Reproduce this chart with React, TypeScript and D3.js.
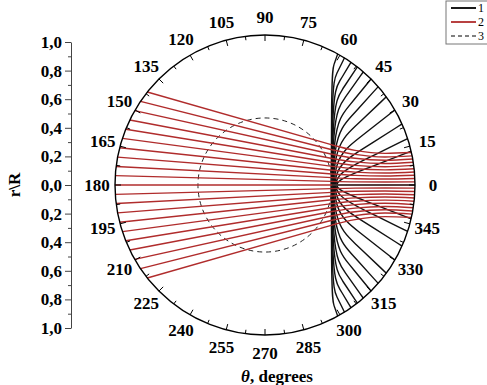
import { useEffect, useRef } from "react";
import * as d3 from "d3";

// angular grid (degrees)
const angleLabels = [0, 15, 30, 45, 60, 75, 90, 105, 120, 135, 150, 165, 180, 195, 210, 225, 240, 255, 270, 285, 300, 315, 330, 345];
const radialTicks = [-1, -0.8, -0.6, -0.4, -0.2, 0, 0.2, 0.4, 0.6, 0.8, 1];

// series 2: red rays, top to bottom
const redStartDeg = [141.7, 146.1, 150.3, 154.3, 158.2, 161.9, 165.6, 169.3, 172.9, 176.4, 180, 183.6, 187.1, 190.7, 194.4, 198.1, 201.8, 205.7, 209.7, 213.9, 218.3];
const redKinkY = [0.267, 0.235, 0.205, 0.177, 0.15, 0.124, 0.098, 0.073, 0.049, 0.024, 0, -0.024, -0.049, -0.073, -0.098, -0.124, -0.15, -0.177, -0.205, -0.235, -0.267];
const redMidY = [0.231, 0.204, 0.178, 0.154, 0.131, 0.108, 0.086, 0.064, 0.042, 0.021, 0, -0.021, -0.042, -0.064, -0.086, -0.108, -0.131, -0.154, -0.178, -0.204, -0.231];
const redLateY = [0.211, 0.187, 0.165, 0.143, 0.122, 0.101, 0.08, 0.06, 0.04, 0.02, 0, -0.02, -0.04, -0.06, -0.08, -0.101, -0.122, -0.143, -0.165, -0.187, -0.211];
const redEndDeg = [12.5, 11.2, 10, 8.7, 7.5, 6.2, 5, 3.7, 2.5, 1.2, 0, -1.2, -2.5, -3.7, -5, -6.2, -7.5, -8.7, -10, -11.2, -12.5];
const kinkX = 0.447;
const midX = 0.6;
const lateX = 0.8;

// series 1: black curves (x, y in r/R)
const blackCurves: [number, number][][] = [
  [[0.974, 0.225], [0.672, 0.108], [0.47, 0.03], [0.47, -0.03], [0.672, -0.108], [0.974, -0.225]],
  [[0.951, 0.309], [0.659, 0.166], [0.465, 0.07], [0.465, -0.07], [0.659, -0.166], [0.951, -0.309]],
  [[0.914, 0.407], [0.642, 0.235], [0.46, 0.12], [0.46, -0.12], [0.642, -0.235], [0.914, -0.407]],
  [[0.866, 0.5], [0.62, 0.308], [0.456, 0.18], [0.456, -0.18], [0.62, -0.308], [0.866, -0.5]],
  [[0.809, 0.588], [0.595, 0.385], [0.452, 0.25], [0.452, -0.25], [0.595, -0.385], [0.809, -0.588]],
  [[0.755, 0.656], [0.572, 0.454], [0.45, 0.32], [0.45, -0.32], [0.572, -0.454], [0.755, -0.656]],
  [[0.707, 0.707], [0.552, 0.517], [0.448, 0.39], [0.448, -0.39], [0.552, -0.517], [0.707, -0.707]],
  [[0.656, 0.755], [0.53, 0.578], [0.446, 0.46], [0.446, -0.46], [0.53, -0.578], [0.656, -0.755]],
  [[0.616, 0.788], [0.513, 0.633], [0.444, 0.53], [0.444, -0.53], [0.513, -0.633], [0.616, -0.788]],
  [[0.574, 0.819], [0.495, 0.688], [0.443, 0.6], [0.443, -0.6], [0.495, -0.688], [0.574, -0.819]],
  [[0.53, 0.848], [0.477, 0.741], [0.442, 0.67], [0.442, -0.67], [0.477, -0.741], [0.53, -0.848]],
  [[0.485, 0.875], [0.459, 0.8], [0.441, 0.75], [0.441, -0.75], [0.459, -0.8], [0.485, -0.875]],
];
const blackAxisLine: [number, number][] = [[0.447, 0], [1, 0]];

// series 3: dashed circle radius (r/R)
const dashedR = 0.447;

const FONT = "'Liberation Serif', 'Times New Roman', serif";
const RED = "#b02c2c";

export default function App() {
  const svgRef = useRef<SVGSVGElement>(null);

  useEffect(() => {
    const svg = d3.select(svgRef.current);
    svg.selectAll("*").remove();

    const cx = 265, cy = 185, R = 150;
    const x = d3.scaleLinear().domain([-1, 1]).range([cx - R, cx + R]);
    const y = d3.scaleLinear().domain([-1, 1]).range([cy + R, cy - R]);
    const rad = (d: number) => (d * Math.PI) / 180;
    const polar = (deg: number, r = 1): [number, number] => [r * Math.cos(rad(deg)), r * Math.sin(rad(deg))];

    const straight = d3.line<[number, number]>().x(d => x(d[0])).y(d => y(d[1]));
    const smooth = d3.line<[number, number]>().x(d => x(d[0])).y(d => y(d[1])).curve(d3.curveMonotoneX);
    const basis = d3.line<[number, number]>().x(d => x(d[0])).y(d => y(d[1])).curve(d3.curveBasis);

    // black curves
    svg.append("g")
      .selectAll("path")
      .data(blackCurves)
      .join("path")
      .attr("d", d => basis(d))
      .attr("fill", "none")
      .attr("stroke", "#111")
      .attr("stroke-width", 1.4);

    // dashed circle
    svg.append("circle")
      .attr("cx", x(0))
      .attr("cy", y(0))
      .attr("r", x(dashedR) - x(0))
      .attr("fill", "none")
      .attr("stroke", "#222")
      .attr("stroke-width", 1)
      .attr("stroke-dasharray", "5,4");

    // red rays
    const rays = redStartDeg.map((s, i) => ({
      first: [polar(s), [kinkX, redKinkY[i]]] as [number, number][],
      second: [[kinkX, redKinkY[i]], [midX, redMidY[i]], [lateX, redLateY[i]], polar(redEndDeg[i])] as [number, number][],
    }));
    const rg = svg.append("g").attr("fill", "none").attr("stroke", RED).attr("stroke-width", 1.4);
    rg.selectAll("path.a").data(rays).join("path").attr("class", "a").attr("d", d => straight(d.first));
    rg.selectAll("path.b").data(rays).join("path").attr("class", "b").attr("d", d => smooth(d.second));

    svg.append("path")
      .attr("d", straight(blackAxisLine))
      .attr("stroke", "#333")
      .attr("stroke-width", 1.3);

    // outer circle
    svg.append("circle")
      .attr("cx", x(0))
      .attr("cy", y(0))
      .attr("r", R)
      .attr("fill", "none")
      .attr("stroke", "#000")
      .attr("stroke-width", 1.4);

    // angular ticks (inward)
    const ticks = d3.range(0, 360, 7.5);
    svg.append("g")
      .selectAll("line")
      .data(ticks)
      .join("line")
      .attr("x1", d => x(polar(d)[0]))
      .attr("y1", d => y(polar(d)[1]))
      .attr("x2", d => x(polar(d, d % 15 === 0 ? 1 - 6 / R : 1 - 4 / R)[0]))
      .attr("y2", d => y(polar(d, d % 15 === 0 ? 1 - 6 / R : 1 - 4 / R)[1]))
      .attr("stroke", "#000")
      .attr("stroke-width", 1);

    // angular labels
    svg.append("g")
      .selectAll("text")
      .data(angleLabels)
      .join("text")
      .attr("x", d => x(polar(d, 1.12)[0]))
      .attr("y", d => y(polar(d, 1.12)[1]))
      .attr("text-anchor", "middle")
      .attr("dominant-baseline", "central")
      .style("font-family", FONT)
      .style("font-size", "17px")
      .style("font-weight", "700")
      .text(d => String(d));

    // left r\R axis
    const ry = d3.scaleLinear().domain([-1, 1]).range([328, 42]);
    const ax = svg.append("g")
      .attr("transform", "translate(71,0)")
      .call(d3.axisLeft(ry)
        .tickValues(radialTicks)
        .tickSize(6)
        .tickSizeOuter(0)
        .tickPadding(3)
        .tickFormat(d => Math.abs(+d).toFixed(1).replace(".", ",")));
    ax.select(".domain").attr("stroke", "#444");
    ax.selectAll(".tick line").attr("stroke", "#444");
    ax.selectAll("text")
      .style("font-family", FONT)
      .style("font-size", "17px")
      .style("font-weight", "700")
      .attr("fill", "#000");

    const minor = svg.append("g")
      .attr("transform", "translate(71,0)")
      .call(d3.axisLeft(ry)
        .tickValues(d3.range(-0.9, 1, 0.2))
        .tickSize(3)
        .tickFormat(() => ""));
    minor.select(".domain").remove();
    minor.selectAll(".tick line").attr("stroke", "#444");

    svg.append("text")
      .attr("transform", "translate(20,185) rotate(-90)")
      .attr("text-anchor", "middle")
      .style("font-family", FONT)
      .style("font-size", "17px")
      .style("font-weight", "700")
      .text("r\\R");

    // x title
    const t = svg.append("text")
      .attr("x", 277)
      .attr("y", 382)
      .attr("text-anchor", "middle")
      .style("font-family", FONT)
      .style("font-size", "17px")
      .style("font-weight", "700");
    t.append("tspan").style("font-style", "italic").text("θ");
    t.append("tspan").text(", degrees");

    // legend
    const lg = svg.append("g");
    lg.append("rect")
      .attr("x", 446).attr("y", 1).attr("width", 50).attr("height", 43)
      .attr("fill", "#fff").attr("stroke", "#777").attr("stroke-width", 1);
    const items = [
      { label: "1", stroke: "#000", dash: null },
      { label: "2", stroke: RED, dash: null },
      { label: "3", stroke: "#000", dash: "4,3" },
    ];
    items.forEach((it, i) => {
      const yy = 8 + i * 14;
      lg.append("line")
        .attr("x1", 451).attr("x2", 476).attr("y1", yy).attr("y2", yy)
        .attr("stroke", it.stroke).attr("stroke-width", it.dash ? 1 : 1.8)
        .attr("stroke-dasharray", it.dash);
      lg.append("text")
        .attr("x", 478).attr("y", yy)
        .attr("dominant-baseline", "central")
        .style("font-family", FONT)
        .style("font-size", "12px")
        .text(it.label);
    });
  }, []);

  return (
    <svg
      ref={svgRef}
      width={487}
      height={385}
      style={{ position: "absolute", left: 0, top: 0, background: "#fff" }}
    />
  );
}
